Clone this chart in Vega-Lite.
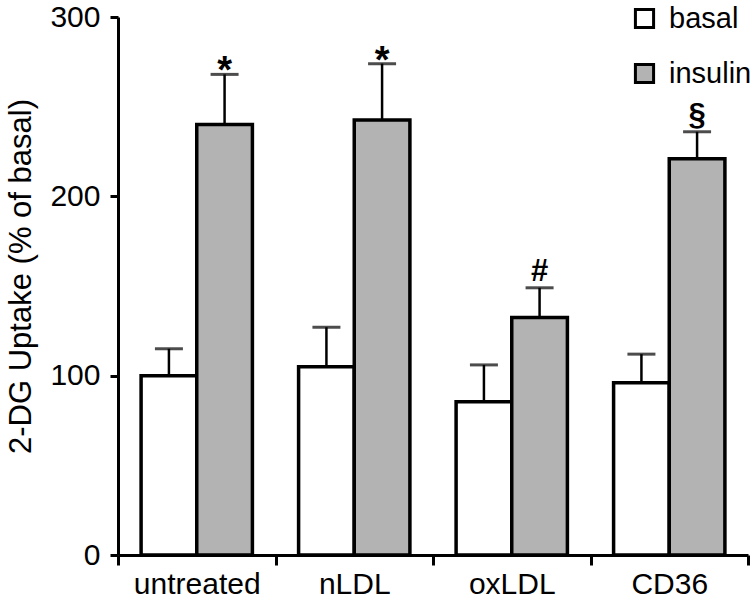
{
  "$schema": "https://vega.github.io/schema/vega-lite/v6.json",
  "width": 630,
  "height": 538,
  "autosize": {"type": "none"},
  "padding": {"left": 118, "top": 17, "right": 2, "bottom": 51},
  "background": "white",
  "config": {
    "font": "Liberation Sans",
    "view": {"stroke": null},
    "axis": {"domainColor": "black", "tickColor": "black", "labelColor": "black", "titleColor": "black", "domainWidth": 3, "tickWidth": 3, "grid": false}
  },
  "data": {
    "values": [
      {"group": "untreated", "treatment": "basal", "mean": 100, "upper": 115, "sig": ""},
      {"group": "untreated", "treatment": "insulin", "mean": 240, "upper": 268, "sig": "*"},
      {"group": "nLDL", "treatment": "basal", "mean": 105, "upper": 127, "sig": ""},
      {"group": "nLDL", "treatment": "insulin", "mean": 242.5, "upper": 274, "sig": "*"},
      {"group": "oxLDL", "treatment": "basal", "mean": 85.5, "upper": 106, "sig": ""},
      {"group": "oxLDL", "treatment": "insulin", "mean": 132.5, "upper": 149, "sig": "#"},
      {"group": "CD36", "treatment": "basal", "mean": 96, "upper": 112, "sig": ""},
      {"group": "CD36", "treatment": "insulin", "mean": 221, "upper": 236, "sig": "§"}
    ]
  },
  "encoding": {
    "x": {
      "field": "group", "type": "nominal", "sort": ["untreated", "nLDL", "oxLDL", "CD36"],
      "scale": {"paddingInner": 0, "paddingOuter": 0},
      "axis": {"title": null, "labelAngle": 0, "labelFontSize": 30, "tickBand": "extent", "tickSize": 10, "labelPadding": 4}
    },
    "xOffset": {"field": "treatment", "type": "nominal", "sort": ["basal", "insulin"], "scale": {"paddingInner": 0, "paddingOuter": 0.415}}
  },
  "layer": [
    {
      "mark": {"type": "bar", "stroke": "black", "strokeWidth": 3.5},
      "encoding": {
        "y": {
          "field": "mean", "type": "quantitative",
          "scale": {"domain": [0, 300]},
          "axis": {"values": [0, 100, 200, 300], "title": "2-DG Uptake (% of basal)", "titleFontSize": 31, "titleFontWeight": "normal", "titleAlign": "center", "titleY": 259, "labelFontSize": 30, "tickSize": 8, "labelPadding": 10, "titlePadding": 12}
        },
        "fill": {
          "field": "treatment", "type": "nominal", "sort": ["basal", "insulin"],
          "scale": {"domain": ["basal", "insulin"], "range": ["#ffffff", "#b3b3b3"]},
          "legend": {
            "title": null, "orient": "none", "legendX": 512, "legendY": -13,
            "symbolType": "square", "symbolSize": 330, "symbolStrokeColor": "black", "symbolStrokeWidth": 3,
            "labelFontSize": 29, "labelColor": "black", "rowPadding": 24, "labelOffset": 10
          }
        }
      }
    },
    {
      "mark": {"type": "rule", "color": "black", "strokeWidth": 2.5},
      "encoding": {
        "y": {"field": "mean", "type": "quantitative"},
        "y2": {"field": "upper"}
      }
    },
    {
      "mark": {"type": "tick", "color": "black", "thickness": 3, "size": 28, "orient": "horizontal"},
      "encoding": {
        "y": {"field": "upper", "type": "quantitative"}
      }
    },
    {
      "transform": [{"filter": "datum.sig == '*'"}],
      "mark": {"type": "text", "fontSize": 38, "fontWeight": "bold", "baseline": "alphabetic", "dy": 9, "color": "black"},
      "encoding": {
        "y": {"field": "upper", "type": "quantitative"},
        "text": {"field": "sig"}
      }
    },
    {
      "transform": [{"filter": "datum.sig == '#' || datum.sig == '§'"}],
      "mark": {"type": "text", "fontSize": 31, "fontWeight": "bold", "baseline": "alphabetic", "dy": -7, "color": "black"},
      "encoding": {
        "y": {"field": "upper", "type": "quantitative"},
        "text": {"field": "sig"}
      }
    }
  ]
}
